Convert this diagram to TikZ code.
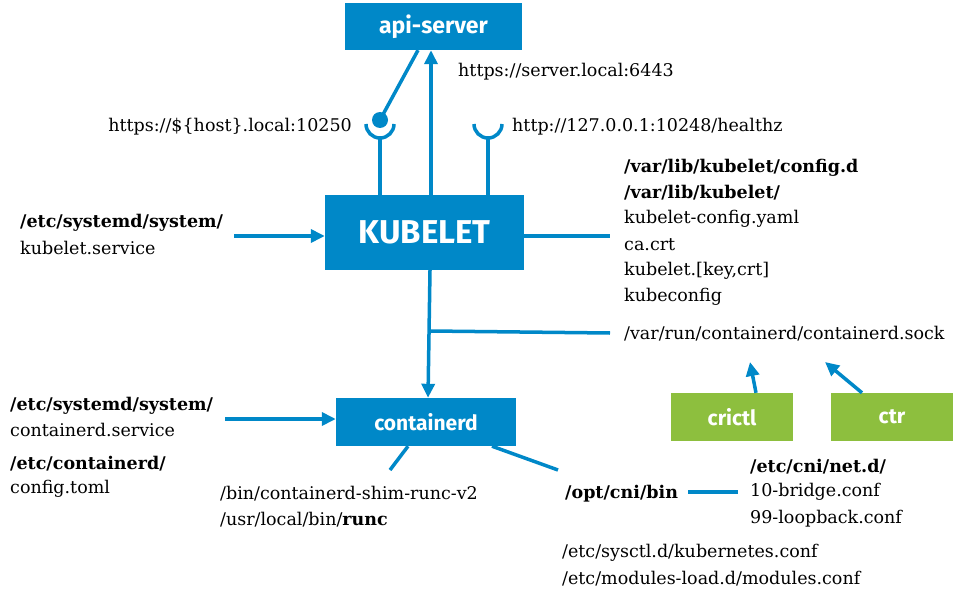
\documentclass[tikz,border=0pt]{standalone}
\usepackage{fontspec}
\setmainfont{DejaVu Serif}
\newfontfamily\boxfont{Fira Sans}
\usetikzlibrary{arrows.meta}
\definecolor{kblue}{HTML}{0088C8}
\definecolor{kgreen}{HTML}{8DBF3E}
\tikzset{x=1pt,y=-1pt,
 bx/.style={fill=kblue,text=white,font=\boxfont\bfseries,inner sep=0pt},
 gbx/.style={fill=kgreen,text=white,font=\boxfont\bfseries\fontsize{21}{24}\selectfont,inner sep=0pt,minimum width=122pt,minimum height=48pt},
 ln/.style={draw=kblue,line width=3.5pt},
 ar/.style={ln,-{Triangle[length=14pt,width=13pt]}},
 lbl/.style={font=\fontsize{17.5}{20}\selectfont,inner sep=0pt}}
\begin{document}
\begin{tikzpicture}
\useasboundingbox (0,0) rectangle (972,594);
\node[bx,minimum width=177pt,minimum height=47pt,font=\boxfont\bfseries\fontsize{23}{26}\selectfont] (api) at (433.5,26.5) {api-server};
\node[bx,minimum width=199pt,minimum height=75pt,font=\boxfont\bfseries\fontsize{33}{36}\selectfont] (kub) at (424.5,232.5) {KUBELET};
\node[bx,minimum width=180pt,minimum height=48pt,font=\boxfont\bfseries\fontsize{21}{24}\selectfont] (ctd) at (426,422) {containerd};
\node[gbx] (crictl) at (732,417) {crictl};
\node[gbx] (ctr) at (892,417) {ctr};
% sockets
\coordinate (ball) at (380,120);
\draw[ln] (api.south -| 418,0) -- (ball);
\fill[kblue] (ball) circle (8);
\draw[ln] (366,124) arc[start angle=180,end angle=0,radius=14];
\draw[ln] (474,124) arc[start angle=180,end angle=0,radius=14];
\draw[ln] (380,138) -- (kub.north -| 380,0);
\draw[ln] (488,138) -- (kub.north -| 488,0);
\draw[ar] (kub.north -| 431,0) -- (api.south -| 431,0);
\node[lbl,anchor=east] (l1) at (352,127) {https://\$\{host\}.local:10250};
\node[lbl,anchor=west] (l2) at (458,72) {https://server.local:6443};
\node[lbl,anchor=west] (l3) at (512,127) {http://127.0.0.1:10248/healthz};
% left kubelet
\node[lbl,anchor=west] (k1) at (20,223) {\bfseries /etc/systemd/system/};
\node[lbl,anchor=west] (k2) at (20,248) {kubelet.service};
\coordinate (ka) at (234,236);
\draw[ar] (ka) -- (kub.west |- ka);
% right kubelet
\coordinate (kr) at (610,236);
\draw[ln] (kub.east |- kr) -- (kr);
\foreach \t/\y [count=\i] in {{\bfseries /var/lib/kubelet/config.d}/168,{\bfseries /var/lib/kubelet/}/193,kubelet-config.yaml/219,ca.crt/245,{kubelet.[key,crt]}/271,kubeconfig/297}
  \node[lbl,anchor=west] (r\i) at (624,\y) {\t};
% kubelet to containerd
\draw[ar] (kub.south -| 430,0) -- (ctd.north -| 428,0);
\coordinate (br) at (430,331);
\coordinate (sock) at (610,333);
\draw[ln] (br) -- (sock);
\node[lbl,anchor=west] (sk) at (624,334) {/var/run/containerd/containerd.sock};
\draw[ar] (crictl.north -| 756,0) -- (750,362);
\draw[ar] (ctr.north -| 862,0) -- (825,362);
% left containerd
\node[lbl,anchor=west] (c1) at (10,406) {\bfseries /etc/systemd/system/};
\node[lbl,anchor=west] (c2) at (10,430) {containerd.service};
\node[lbl,anchor=west] (c3) at (10,464) {\bfseries /etc/containerd/};
\node[lbl,anchor=west] (c4) at (10,489) {config.toml};
\coordinate (ca) at (225,419);
\draw[ar] (ca) -- (ctd.west |- ca);
% bottom
\coordinate (b1) at (390,470);
\coordinate (b2) at (558,470);
\draw[ln] (ctd.south -| 408,0) -- (b1);
\draw[ln] (ctd.south -| 492,0) -- (b2);
\node[lbl,anchor=west] (d1) at (220,494) {/bin/containerd-shim-runc-v2};
\node[lbl,anchor=west] (d2) at (220,520) {/usr/local/bin/\textbf{runc}};
\node[lbl,anchor=west] (opt) at (565,494) {\bfseries /opt/cni/bin};
\coordinate (o2) at (738,492);
\draw[ln] (688,492) -- (o2);
\node[lbl,anchor=west] (n1) at (750,467) {\bfseries /etc/cni/net.d/};
\node[lbl,anchor=west] (n2) at (750,492) {10-bridge.conf};
\node[lbl,anchor=west] (n3) at (750,519) {99-loopback.conf};
\node[lbl,anchor=west] (e1) at (562,553) {/etc/sysctl.d/kubernetes.conf};
\node[lbl,anchor=west] (e2) at (562,579) {/etc/modules-load.d/modules.conf};
\end{tikzpicture}
\end{document}
